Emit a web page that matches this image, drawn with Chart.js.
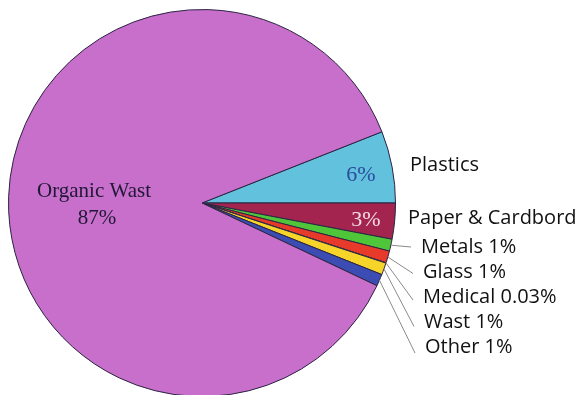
<!DOCTYPE html>
<html>
<head>
<meta charset="utf-8">
<script src="https://cdn.jsdelivr.net/npm/chart.js@4/dist/chart.umd.min.js"></script>
<style>
  html, body { margin: 0; padding: 0; background: #fff; overflow: hidden; }
  #wrap { width: 577px; height: 395px; overflow: hidden; }
</style>
</head>
<body>
<div id="wrap"><canvas id="pie" width="577" height="400"></canvas></div>
<script>
const categories = ["Plastics", "Paper & Cardbord", "Metals", "Glass", "Medical", "Wast", "Other", "Organic Wast"];
const shares = [6, 3, 1, 1, 0.03, 1, 1, 87];
const sideLabels = ["Plastics", "Paper & Cardbord", "Metals 1%", "Glass 1%", "Medical 0.03%", "Wast 1%", "Other 1%"];
const sliceColors = ["#62c2de", "#a2244f", "#4fc63a", "#e73a2b", "#ffffff", "#f6d42a", "#3b4db3", "#c86ecb"];

// where each outside label sits, and whether it gets a leader line
const labelSpots = [
  { x: 410, y: 165, line: false },
  { x: 408, y: 218, line: false },
  { x: 421, y: 247, line: true },
  { x: 423, y: 272, line: true },
  { x: 423, y: 297, line: true },
  { x: 424, y: 322, line: true },
  { x: 425, y: 347, line: true }
];

const total = shares.reduce((a, b) => a + b, 0);

const pieLabels = {
  id: "pieLabels",
  afterDatasetsDraw(chart) {
    const ctx = chart.ctx;
    const arcs = chart.getDatasetMeta(0).data;
    ctx.save();

    // leader lines from the small slices
    ctx.strokeStyle = "#8a8a8a";
    ctx.lineWidth = 1;
    labelSpots.forEach((spot, i) => {
      if (!spot.line) return;
      const a = arcs[i];
      const mid = (a.startAngle + a.endAngle) / 2;
      const r = a.outerRadius;
      ctx.beginPath();
      ctx.moveTo(a.x + Math.cos(mid) * r, a.y + Math.sin(mid) * r);
      ctx.lineTo(spot.x - 10, spot.y + (i - 2) * 1.5);
      ctx.stroke();
    });

    // names outside the pie
    ctx.fillStyle = "#111";
    ctx.font = "20px 'Open Sans'";
    ctx.textAlign = "left";
    ctx.textBaseline = "middle";
    labelSpots.forEach((spot, i) => {
      ctx.fillText(sideLabels[i], spot.x, spot.y);
    });

    // percentages inside the two larger slices
    ctx.font = "22px 'Liberation Serif'";
    ctx.textAlign = "center";
    ctx.fillStyle = "#2b4c9c";
    ctx.fillText(shares[0] + "%", 361, 175);
    ctx.fillStyle = "#f4dbe6";
    ctx.fillText(shares[1] + "%", 366, 220);

    // organic waste caption
    ctx.fillStyle = "#1f1836";
    ctx.font = "21px 'Liberation Serif'";
    ctx.fillText(categories[7], 94, 191);
    ctx.fillText(shares[7] + "%", 97, 218);

    ctx.restore();
  }
};

new Chart(document.getElementById("pie"), {
  type: "pie",
  data: {
    labels: categories,
    datasets: [{
      data: shares,
      backgroundColor: sliceColors,
      borderColor: "#2b2442",
      borderWidth: 1
    }]
  },
  options: {
    responsive: false,
    animation: false,
    rotation: 90 - (shares[0] / total) * 360,
    layout: { padding: { left: 8, right: 181, top: 9, bottom: 3 } },
    plugins: {
      legend: { display: false },
      tooltip: { enabled: false }
    }
  },
  plugins: [pieLabels]
});
</script>
</body>
</html>
